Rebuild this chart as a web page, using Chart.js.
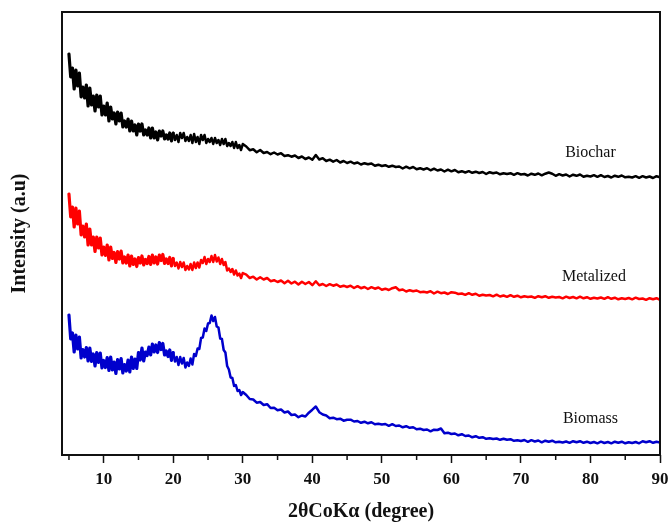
<!DOCTYPE html>
<html>
<head>
<meta charset="utf-8">
<script src="https://cdn.jsdelivr.net/npm/chart.js@4/dist/chart.umd.min.js"></script>
<style>
  html, body { margin: 0; padding: 0; background: #fff; }
  #wrap { width: 670px; height: 525px; position: relative; }
</style>
</head>
<body>
<div id="wrap"><canvas id="xrd"></canvas></div>
<script>
// Diffraction angle 2θ (degrees), shared by all three scans
const twoTheta = [
  5,5.25,5.5,5.75,6,6.25,6.5,6.75,7,7.25,7.5,7.75,
  8,8.25,8.5,8.75,9,9.25,9.5,9.75,10,10.25,10.5,10.75,
  11,11.25,11.5,11.75,12,12.25,12.5,12.75,13,13.25,13.5,13.75,
  14,14.25,14.5,14.75,15,15.25,15.5,15.75,16,16.25,16.5,16.75,
  17,17.25,17.5,17.75,18,18.25,18.5,18.75,19,19.25,19.5,19.75,
  20,20.25,20.5,20.75,21,21.25,21.5,21.75,22,22.25,22.5,22.75,
  23,23.25,23.5,23.75,24,24.25,24.5,24.75,25,25.25,25.5,25.75,
  26,26.25,26.5,26.75,27,27.25,27.5,27.75,28,28.25,28.5,28.75,
  29,29.25,29.5,29.75,30,
  30.5,31,31.5,32,32.5,33,33.5,34,34.5,35,
  35.5,36,36.5,37,37.5,38,38.5,39,39.5,40,
  40.5,41,41.5,42,42.5,43,43.5,44,44.5,45,
  45.5,46,46.5,47,47.5,48,48.5,49,49.5,50,
  50.5,51,51.5,52,52.5,53,53.5,54,54.5,55,
  55.5,56,56.5,57,57.5,58,58.5,59,59.5,60,
  60.5,61,61.5,62,62.5,63,63.5,64,64.5,65,
  65.5,66,66.5,67,67.5,68,68.5,69,69.5,70,
  70.5,71,71.5,72,72.5,73,73.5,74,74.5,75,
  75.5,76,76.5,77,77.5,78,78.5,79,79.5,80,
  80.5,81,81.5,82,82.5,83,83.5,84,84.5,85,
  85.5,86,86.5,87,87.5,88,88.5,89,89.5,90
];

// Intensities (a.u.), curves stacked with vertical offsets
const biochar = [
  401,378,387,366,385,369,382,358,368,357,370,349,
  367,350,359,344,360,348,359,340,349,340,352,334,
  348,336,342,331,343,334,342,328,334,328,336,324,
  334,324,330,320,331,324,331,320,325,320,327,317,
  327,317,323,315,324,319,324,316,320,316,322,314,
  322,315,320,313,322,317,322,314,318,314,320,312,
  321,313,318,311,320,315,320,312,316,313,317,311,
  317,312,315,310,316,311,316,309,312,309,313,307,
  313,307,310,305,311,
  308.5,304.8,305.8,302.8,305,302,303,300.8,302.5,300.5,
  301.8,299,299.8,298.3,299.5,297,298.5,296,297.5,295.3,
  300,295.5,296.8,294,295.3,293.3,295,292.5,294,292,
  293.3,291.5,292.5,290.5,291.8,290.7,291.5,289.2,290.3,289,
  289.8,288.2,289.3,288,288.5,286.5,288.3,286.7,288,285.7,
  286.8,285.5,286.8,284.7,286.3,284.5,285.5,283.5,285.3,283.7,
  285,282.7,283.8,282.5,283.8,282.2,283.3,282,283,281,
  282.8,281.7,282.5,280.7,281.8,281,281.8,280.2,281.8,280.5,
  281,279.5,281.3,280.2,281.5,279.7,281.3,282.5,281.3,279.2,
  280.8,279.5,280.5,278.5,280.3,279.2,280.5,278.2,279.3,278.5,
  279.8,278.2,279.8,278,279,277.5,279.3,278.2,279.5,277.7,
  278.3,277.5,278.8,277.2,278.8,277.5,278.5,277,278.8,277.7
];

const metalized = [
  261,238,248,228,247,231,244,220,229,218,231,210,
  226,210,218,203.5,218,207,217,200,208,199.5,210,195,
  208,196.5,202.5,192.5,203.5,196,204,192,198,192,200,189,
  199,190.5,196,188.5,197.5,192,199,190,195.5,191.5,198.5,190.5,
  200,192,198,191,200,194.5,200.5,191.5,196,191.5,197.5,189,
  196.5,189,192.5,186.5,193,188,192.5,185,189,185.5,191,185,
  192.5,187,192.5,187.5,195,192,198,191,196,193,199,193,
  200,193.5,197.5,191,196,190,193,184.5,186.5,183,186,180.5,
  184.5,179.5,181.5,177,182,
  180.3,177,178.3,175.5,177.8,175.5,177,173.8,174.8,173,
  174.5,171.8,174.3,171.5,173.3,170.5,173.3,171,173,169.8,
  173.8,169.8,171,169,170.8,169.3,170.5,168.3,169.3,168,
  169.3,167,168.8,166.8,168,166,167.8,166.3,167.5,165.3,
  166.3,165,166.8,167.8,164.8,165.5,163.5,164.8,163.8,164.5,
  162.8,163.3,162.5,163.8,161.5,163.3,161.8,162.5,161,162.8,
  162.3,161,161.5,160.2,161.8,160.2,161.3,159.2,160.3,159.5,
  160,158.7,160.3,158.5,159.5,158.2,159.8,158.2,159.3,157.7,
  158.8,158,158.5,157.2,158.8,157.7,158.8,157.2,158.3,157.5,
  158,156.7,158.3,157,158,156.7,158.3,156.7,157.8,156.2,
  157.3,156.5,157.5,156.2,157.8,156.2,157.3,155.7,156.8,156,
  157,155.7,157.3,156,156.5,155.2,156.8,155.7,156.8,155.2
];

const biomass = [
  140,116,122,103,120,106,118,97,105.5,98,107.5,94,
  107,93.5,101,89,102.5,92.5,102,87,94.5,87.5,97.5,84.5,
  98,85,93,81.5,95.5,86,96.5,82,90.5,84,95,83,
  98,86.5,96,86.5,102.5,95,107,94,103,99.5,108,100,
  111,103,110,102.5,112.5,105.5,111.5,100,104,98.5,105,94.5,
  102.5,93.5,98,90,98,91.5,97,87.5,92.5,89,96.5,90.5,
  101,99,106.5,106,117,117.5,126.5,124,131.5,132,139.5,134,
  138,128.5,127.5,116.5,116,105,102.5,89,85.5,77.5,77,69,
  70,64,65,60,63,
  60,56,55.5,52.3,53,50,50.8,47,47.3,44.8,
  45.5,42.5,43.5,40,40.5,37.8,39.5,38.5,42.3,45.3,
  48.5,42.8,40.5,39.5,36.8,37.3,35.8,36.3,34.3,35.3,
  35.3,33.5,34,32.2,33.3,31.7,32.8,30.7,31.3,30.5,
  31,29.2,30.8,29,29.5,27.7,28.8,27.2,27.8,25.7,
  26.3,25,25.5,23.7,25.3,25,26.5,21.7,22.3,21,
  21.5,19.7,20.8,19,19.5,17.7,18.8,17.2,17.8,16.2,
  16.8,16,16.5,15.2,16.3,15.2,15.8,14.2,14.8,14,
  15,13.2,14.8,13.5,14.5,12.7,14.3,13.2,14.3,12.7,
  13.3,12.5,13.5,12.2,13.8,12.7,13.8,12.2,13.3,12,
  13,11.7,13.3,12,13,11.7,13.3,12.2,13.3,11.7,
  12.8,12,13,11.7,13.8,12.7,13.8,12.2,13.3,12.5
];

const seriesNames = ['Biochar', 'Metalized', 'Biomass'];
const xMajorTicks = [10, 20, 30, 40, 50, 60, 70, 80, 90];
const xMinorTicks = [5, 15, 25, 35, 45, 55, 65, 75, 85];

// where each curve's name sits, in (2θ, intensity) units
const nameAnchors = [[80, 302], [80.5, 178], [80, 36]];
const lineColors = ['#000000', '#ff0000', '#0000cc'];
const serif = '"Liberation Serif", "Times New Roman", serif';

const toPoints = vals => twoTheta.map((t, i) => ({ x: t, y: vals[i] }));

const frameAndNames = {
  id: 'frameAndNames',
  afterDatasetsDraw(chart) {
    const { ctx, chartArea: a, scales: { x, y } } = chart;
    ctx.save();
    ctx.strokeStyle = '#111';
    ctx.lineWidth = 2;
    ctx.strokeRect(a.left, a.top, a.right - a.left, a.bottom - a.top);
    ctx.lineWidth = 1.5;
    xMinorTicks.forEach(v => {
      const px = x.getPixelForValue(v);
      ctx.beginPath();
      ctx.moveTo(px, a.bottom);
      ctx.lineTo(px, a.bottom + 5);
      ctx.stroke();
    });
    ctx.font = '16px ' + serif;
    ctx.fillStyle = '#111';
    ctx.textAlign = 'center';
    ctx.textBaseline = 'middle';
    chart.data.datasets.forEach((ds, i) => {
      const [ax, ay] = nameAnchors[i];
      ctx.fillText(ds.label, x.getPixelForValue(ax), y.getPixelForValue(ay));
    });
    ctx.restore();
  }
};

new Chart(document.getElementById('xrd'), {
  type: 'line',
  data: {
    datasets: [biochar, metalized, biomass].map((vals, i) => ({
      label: seriesNames[i],
      data: toPoints(vals),
      borderColor: lineColors[i],
      borderWidth: 2.5,
      borderJoinStyle: 'round',
      borderCapStyle: 'round',
      // the noisy low-angle part of each scan reads as a heavier band
      segment: { borderWidth: c => (c.p0.parsed.x < 20 ? 3.2 : 2.5) },
      pointRadius: 0,
      fill: false,
      tension: 0
    }))
  },
  options: {
    responsive: true,
    maintainAspectRatio: false,
    animation: false,
    layout: { padding: { top: 12, right: 10, left: 0, bottom: 0 } },
    plugins: { legend: { display: false }, tooltip: { enabled: false } },
    scales: {
      x: {
        type: 'linear',
        min: 4,
        max: 90,
        afterBuildTicks: s => { s.ticks = xMajorTicks.map(v => ({ value: v })); },
        afterFit: s => { s.height = 70; s.paddingLeft = 0; s.paddingRight = 0; },
        grid: { drawOnChartArea: false, drawTicks: true, tickLength: 8, tickColor: '#111', tickWidth: 1.5 },
        border: { display: false },
        ticks: { color: '#111', padding: 6, maxRotation: 0, font: { family: serif, size: 17, weight: 'bold' } },
        title: {
          display: true,
          text: '2θCoKα (degree)',
          color: '#111',
          font: { family: serif, size: 20, weight: 'bold' },
          padding: { top: 0, bottom: 1 }
        }
      },
      y: {
        min: 0,
        max: 443,
        afterFit: s => { s.width = 62; },
        grid: { display: false },
        border: { display: false },
        ticks: { display: false },
        title: {
          display: true,
          text: 'Intensity (a.u)',
          color: '#111',
          font: { family: serif, size: 20, weight: 'bold' },
          padding: { top: 8, bottom: 0 }
        }
      }
    }
  },
  plugins: [frameAndNames]
});
</script>
</body>
</html>
